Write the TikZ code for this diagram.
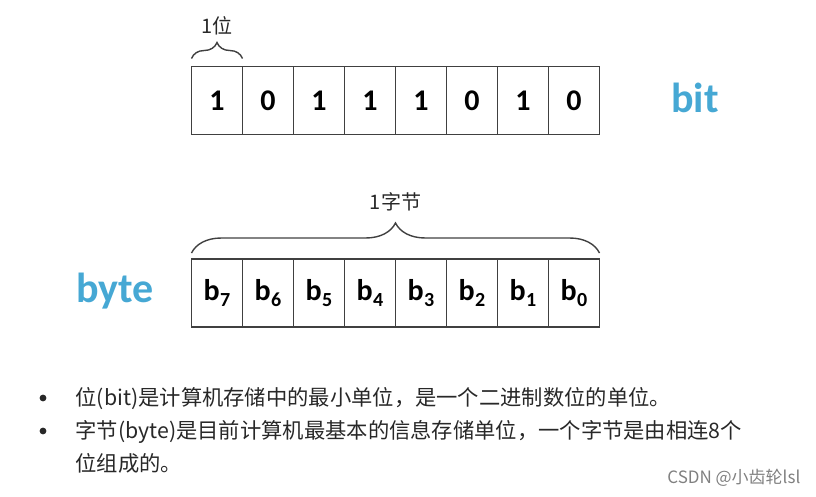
\documentclass[tikz,border=0pt]{standalone}
\usepackage{fontspec}
\setmainfont{Carlito}
\newfontfamily\cjk{Noto Sans CJK SC}
\usetikzlibrary{positioning,decorations.pathreplacing}
\definecolor{unitblue}{RGB}{70,168,212}
\definecolor{boxgrey}{RGB}{64,64,64}
\definecolor{textgrey}{RGB}{40,40,40}
\tikzset{
  every picture/.style={line width=1.3pt},
  scell/.style={draw=boxgrey, rectangle, minimum width=51pt, minimum height=68pt,
                inner sep=0pt, outer sep=0pt, text=black,
                font=\fontsize{30}{30}\selectfont\bfseries},
  sbrace/.style={draw=boxgrey, line width=1.4pt, decorate,
                 decoration={brace, amplitude=#1}},
  sunit/.style={font=\fontsize{42}{42}\selectfont\bfseries, text=unitblue, inner sep=0pt},
  slabel/.style={font=\cjk\fontsize{20}{20}\selectfont, text=textgrey, inner sep=0pt},
  sline/.style={font=\cjk\fontsize{21.3}{21.3}\selectfont, text=textgrey,
                inner sep=0pt, anchor=base west},
  sdot/.style={circle, fill=textgrey, inner sep=2.4pt},
  smark/.style={font=\cjk\fontsize{17}{17}\selectfont, text=black!50,
                inner sep=0pt, anchor=east},
}
\newcommand{\bitsub}[1]{b\kern0.5pt\raisebox{-0.35ex}{\fontsize{20}{20}\selectfont #1}}

\begin{document}
\begin{tikzpicture}[x=1pt, y=-1pt]
  \useasboundingbox (0,0) rectangle (816,496);
  % bit row
  \node[scell] (bit1) at (217,100.5) {1};
  \foreach \v [count=\i from 2, remember=\i as \last (initially 1)] in {0,1,1,1,0,1,0}
    \node[scell, right=0pt of bit\last] (bit\i) {\v};
  \node[sunit, right=71pt of bit8, yshift=3pt] (bitname) {bit};
  \draw[sbrace=16] ([yshift=8pt]bit1.north west) -- ([yshift=8pt]bit1.north east)
    node[slabel, midway, above=23pt] (bitlbl) {1位};
  % byte row
  \node[scell] (byt1) at (217,293) {\bitsub{7}};
  \foreach \v [count=\i from 2, remember=\i as \last (initially 1)] in {6,5,4,3,2,1,0}
    \node[scell, right=0pt of byt\last] (byt\i) {\bitsub{\v}};
  \node[sunit, left=37pt of byt1, yshift=2pt] (bytename) {byte};
  \draw[sbrace=30] ([yshift=6pt]byt1.north west) -- ([yshift=6pt]byt8.north east)
    node[slabel, midway, above=41pt] (bytlbl) {1字节};
  % notes
  \node[sline] (line1) at (75,405) {位(bit)是计算机存储中的最小单位，是一个二进制数位的单位。};
  \node[sline] (line2) at (75,438) {字节(byte)是目前计算机最基本的信息存储单位，一个字节是由相连8个};
  \node[sline] (line3) at (75,471) {位组成的。};
  \node[sdot] (dot1) at (43,398) {};
  \node[sdot] (dot2) at (43,431) {};
  \node[smark] (wmark) at (801,478) {CSDN @小齿轮lsl};
\end{tikzpicture}
\end{document}
